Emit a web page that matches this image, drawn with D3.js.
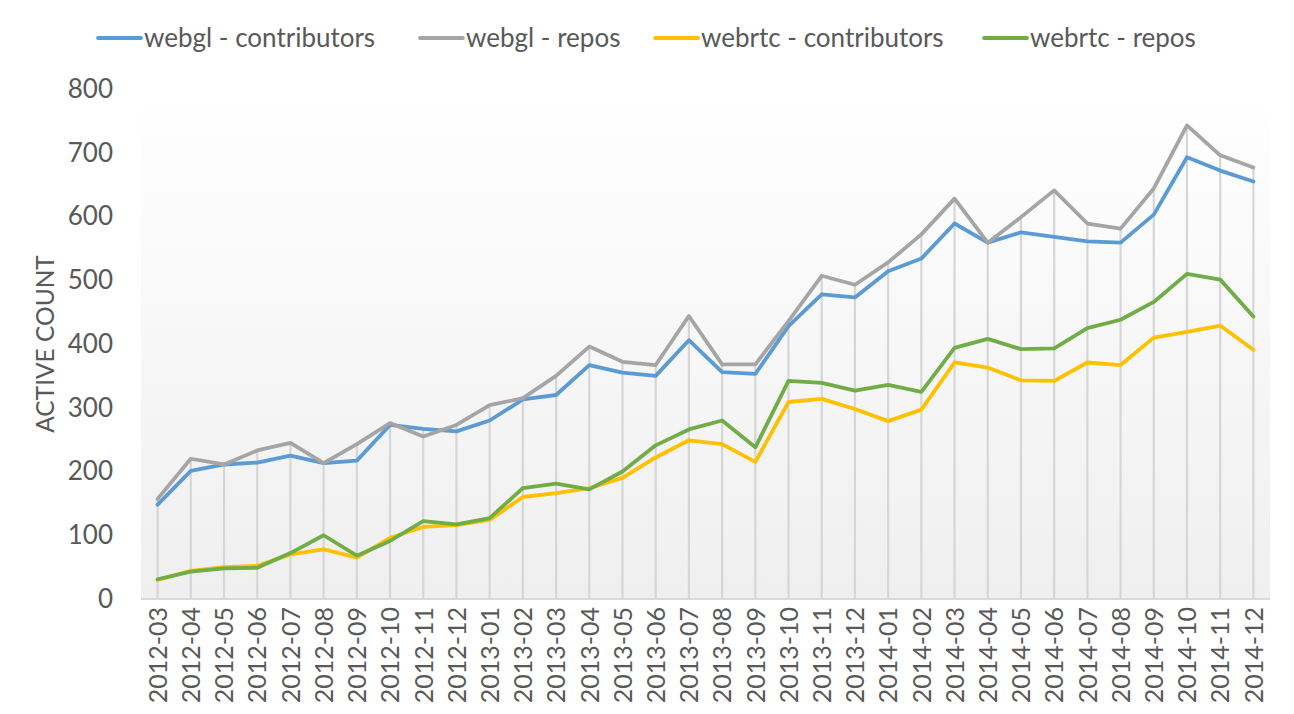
<!DOCTYPE html>
<html>
<head>
<meta charset="utf-8">
<script src="https://cdn.jsdelivr.net/npm/d3@7"></script>
<style>
  html, body { margin: 0; padding: 0; background: #fff; }
  svg { display: block; font-family: Lato, "Open Sans", "Noto Sans", sans-serif; }
</style>
</head>
<body>
<svg id="chart" width="1294" height="714"></svg>
<script>
const months = ["2012-03","2012-04","2012-05","2012-06","2012-07","2012-08","2012-09","2012-10","2012-11","2012-12",
  "2013-01","2013-02","2013-03","2013-04","2013-05","2013-06","2013-07","2013-08","2013-09","2013-10","2013-11","2013-12",
  "2014-01","2014-02","2014-03","2014-04","2014-05","2014-06","2014-07","2014-08","2014-09","2014-10","2014-11","2014-12"];

const webglContributors = [148,201,211,214,225,213,217,273,267,263,280,313,320,367,355,350,406,356,353,428,478,473,514,534,589,559,575,568,561,559,603,693,672,655];
const webglRepos        = [157,220,211,233,245,213,243,276,255,273,304,315,350,396,372,367,444,368,368,436,507,493,528,572,628,559,599,641,589,581,644,743,696,677];
const webrtcContributors= [30,44,50,52,70,78,65,96,113,116,124,160,166,174,190,222,249,243,215,309,314,298,279,297,371,363,343,342,371,367,410,419,429,391];
const webrtcRepos       = [31,43,48,49,72,100,68,91,122,117,127,174,181,172,200,241,266,280,238,342,339,327,336,325,394,408,392,393,425,438,466,510,501,443];

const yTicks = [0,100,200,300,400,500,600,700,800];
const seriesNames = ["webgl - contributors","webgl - repos","webrtc - contributors","webrtc - repos"];
const seriesValues = [webglContributors, webglRepos, webrtcContributors, webrtcRepos];
const colors = ["#5B9BD5","#A5A5A5","#FFC000","#70AD47"];
const legendX = [98, 420, 655, 984];

(function draw() {
const svg = d3.select("#chart");
const pLeft = 141, pRight = 1270, pTop = 89, pBottom = 599;
const textColor = "#595959";

const x = d3.scalePoint().domain(months).range([pLeft, pRight]).padding(0.5);
const y = d3.scaleLinear().domain([0, 800]).range([pBottom, pTop]);

// background gradient
const defs = svg.append("defs");
const grad = defs.append("linearGradient").attr("id","bg").attr("x1",0).attr("y1",0).attr("x2",0).attr("y2",1);
grad.append("stop").attr("offset","0%").attr("stop-color","#ffffff");
grad.append("stop").attr("offset","100%").attr("stop-color","#efefef");
svg.append("rect").attr("x", pLeft).attr("y", pTop).attr("width", pRight-pLeft).attr("height", pBottom-pTop).attr("fill","url(#bg)");

// drop lines
const maxVals = months.map((m,i) => d3.max(seriesValues, s => s[i]));
svg.append("g").selectAll("line").data(months).join("line")
  .attr("x1", d => x(d)).attr("x2", d => x(d))
  .attr("y1", (d,i) => y(maxVals[i])).attr("y2", y(0))
  .attr("stroke","#d6d6d6").attr("stroke-width",2.2);

// x axis line
svg.append("line").attr("x1", pLeft).attr("x2", pRight).attr("y1", y(0)).attr("y2", y(0))
  .attr("stroke","#d9d9d9").attr("stroke-width",2);

// y axis labels
const yAxis = d3.axisLeft(y).tickValues(yTicks).tickSize(0).tickPadding(0);
const yg = svg.append("g").attr("transform","translate(113,0)").call(yAxis);
yg.select(".domain").remove();
yg.selectAll("text").attr("font-size","26px").attr("fill",textColor)
  .style("font-family","Lato, 'Open Sans', sans-serif");

// x axis labels
const xAxis = d3.axisBottom(x).tickSize(0).tickPadding(0);
const xg = svg.append("g").attr("transform",`translate(0,${pBottom})`).call(xAxis);
xg.select(".domain").remove();
xg.selectAll("text")
  .attr("font-size","25px").attr("fill",textColor)
  .style("font-family","Lato, 'Open Sans', sans-serif")
  .attr("text-anchor","end")
  .attr("transform","translate(0,8) rotate(-90)")
  .attr("x",0).attr("y",0).attr("dy","0.35em");

// axis title
svg.append("text").attr("transform",`translate(54,${(pTop+pBottom)/2}) rotate(-90)`)
  .attr("text-anchor","middle").attr("font-size","24.5px").attr("fill",textColor)
  .text("ACTIVE COUNT");

// lines
const line = d3.line().x((d,i) => x(months[i])).y(d => y(d));
svg.append("g").selectAll("path").data(seriesValues).join("path")
  .attr("d", d => line(d)).attr("fill","none")
  .attr("stroke", (d,i) => colors[i]).attr("stroke-width",3.8)
  .attr("stroke-linejoin","round").attr("stroke-linecap","round");

// legend
const lg = svg.append("g");
seriesNames.forEach((name,i) => {
  const g = lg.append("g").attr("transform",`translate(${legendX[i]},0)`);
  g.append("line").attr("x1",0).attr("x2",43).attr("y1",38).attr("y2",38)
    .attr("stroke",colors[i]).attr("stroke-width",3.8).attr("stroke-linecap","round");
  g.append("text").attr("x",46).attr("y",47).attr("font-size","26px").attr("fill",textColor).text(name);
});
})();
</script>
</body>
</html>
